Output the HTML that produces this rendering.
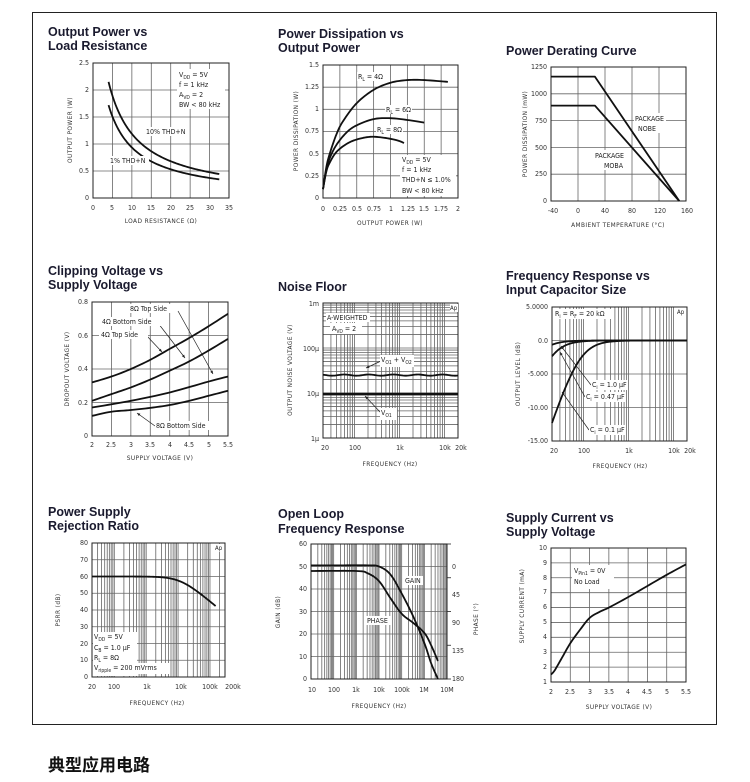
<!DOCTYPE html>
<html><head><meta charset="utf-8"><style>
html,body{margin:0;padding:0;background:#fff;}
body{width:750px;height:782px;overflow:hidden;}
svg{display:block;}
.t{font-family:"Liberation Sans",Arial,sans-serif;font-weight:bold;font-size:12.5px;fill:#1a1a2e;}
.k{font-family:"DejaVu Sans Condensed","DejaVu Sans","Liberation Sans",sans-serif;font-size:7px;fill:#333;}
.a{font-family:"DejaVu Sans Condensed","DejaVu Sans","Liberation Sans",sans-serif;font-size:6.5px;fill:#333;letter-spacing:0.4px;}
.n{font-family:"DejaVu Sans Condensed","DejaVu Sans","Liberation Sans",sans-serif;font-size:7px;fill:#222;}
.s{font-size:5px;}
.bg{fill:#fff;}
</style></head><body>
<svg id="s" width="750" height="782" viewBox="0 0 750 782" xmlns="http://www.w3.org/2000/svg">
<rect x="32.5" y="12.5" width="684" height="712" fill="none" stroke="#222" stroke-width="1"/>
<g id="g"></g>
<g id="txt">
<text class="t" x="48" y="36">Output Power vs</text>
<text class="t" x="48" y="50">Load Resistance</text>
<text class="t" x="278" y="38">Power Dissipation vs</text>
<text class="t" x="278" y="52">Output Power</text>
<text class="t" x="506" y="55">Power Derating Curve</text>
<text class="t" x="48" y="275">Clipping Voltage vs</text>
<text class="t" x="48" y="289">Supply Voltage</text>
<text class="t" x="278" y="291">Noise Floor</text>
<text class="t" x="506" y="280">Frequency Response vs</text>
<text class="t" x="506" y="294">Input Capacitor Size</text>
<text class="t" x="48" y="516">Power Supply</text>
<text class="t" x="48" y="530">Rejection Ratio</text>
<text class="t" x="278" y="518">Open Loop</text>
<text class="t" x="278" y="533">Frequency Response</text>
<text class="t" x="506" y="522">Supply Current vs</text>
<text class="t" x="506" y="536">Supply Voltage</text>
<text x="48" y="771" style="font-family:'Liberation Sans','Noto Sans CJK SC',sans-serif;font-weight:bold;font-size:17px;fill:#111">典型应用电路</text>

<g class="k" text-anchor="end">
<text x="89" y="200">0</text><text x="89" y="173">0.5</text><text x="89" y="146">1</text><text x="89" y="119">1.5</text><text x="89" y="92">2</text><text x="89" y="65">2.5</text>
</g>
<g class="k" text-anchor="middle">
<text x="93" y="210">0</text><text x="112" y="210">5</text><text x="132" y="210">10</text><text x="151" y="210">15</text><text x="171" y="210">20</text><text x="190" y="210">25</text><text x="210" y="210">30</text><text x="229" y="210">35</text>
</g>
<text class="a" x="161" y="223" text-anchor="middle">LOAD RESISTANCE (Ω)</text>
<text class="a" transform="translate(72,130) rotate(-90)" text-anchor="middle">OUTPUT POWER (W)</text>
<g class="n"><rect class="bg" x="177" y="69" width="48" height="40"/>
<text x="179" y="77">V<tspan class="s" dy="2">DD</tspan><tspan dy="-2"> = 5V</tspan></text>
<text x="179" y="87">f = 1 kHz</text>
<text x="179" y="97">A<tspan class="s" dy="2">VD</tspan><tspan dy="-2"> = 2</tspan></text>
<text x="179" y="107">BW &lt; 80 kHz</text>
<rect class="bg" x="144" y="127" width="45" height="9"/><text x="146" y="134">10% THD+N</text>
<rect class="bg" x="109" y="156" width="40" height="9"/><text x="110" y="163">1% THD+N</text></g>

<g class="k" text-anchor="end">
<text x="319" y="200">0</text><text x="319" y="178">0.25</text><text x="319" y="156">0.5</text><text x="319" y="133">0.75</text><text x="319" y="111">1</text><text x="319" y="89">1.25</text><text x="319" y="67">1.5</text>
</g>
<g class="k" text-anchor="middle">
<text x="323" y="211">0</text><text x="340" y="211">0.25</text><text x="357" y="211">0.5</text><text x="374" y="211">0.75</text><text x="391" y="211">1</text><text x="408" y="211">1.25</text><text x="424" y="211">1.5</text><text x="441" y="211">1.75</text><text x="458" y="211">2</text>
</g>
<text class="a" x="390" y="225" text-anchor="middle">OUTPUT POWER (W)</text>
<text class="a" transform="translate(298,131) rotate(-90)" text-anchor="middle">POWER DISSIPATION (W)</text>
<g class="n">
<rect class="bg" x="357" y="72" width="27" height="9"/><text x="358" y="79">R<tspan class="s" dy="2">L</tspan><tspan dy="-2"> = 4Ω</tspan></text>
<rect class="bg" x="385" y="105" width="27" height="9"/><text x="386" y="112">R<tspan class="s" dy="2">L</tspan><tspan dy="-2"> = 6Ω</tspan></text>
<rect class="bg" x="376" y="125" width="27" height="9"/><text x="377" y="132">R<tspan class="s" dy="2">L</tspan><tspan dy="-2"> = 8Ω</tspan></text>
<rect class="bg" x="400" y="155" width="56" height="41"/>
<text x="402" y="162">V<tspan class="s" dy="2">DD</tspan><tspan dy="-2"> = 5V</tspan></text>
<text x="402" y="172">f = 1 kHz</text>
<text x="402" y="182">THD+N ≤ 1.0%</text>
<text x="402" y="193">BW &lt; 80 kHz</text></g>

<g class="k" text-anchor="end">
<text x="547" y="203">0</text><text x="547" y="176">250</text><text x="547" y="150">500</text><text x="547" y="123">750</text><text x="547" y="96">1000</text><text x="547" y="69">1250</text>
</g>
<g class="k" text-anchor="middle">
<text x="553" y="213">-40</text><text x="578" y="213">0</text><text x="605" y="213">40</text><text x="632" y="213">80</text><text x="660" y="213">120</text><text x="687" y="213">160</text>
</g>
<text class="a" x="618" y="227" text-anchor="middle">AMBIENT TEMPERATURE (°C)</text>
<text class="a" transform="translate(527,134) rotate(-90)" text-anchor="middle">POWER DISSIPATION (mW)</text>
<g class="n">
<rect class="bg" x="634" y="113" width="32" height="20"/>
<text x="635" y="121">PACKAGE</text><text x="638" y="131">NOBE</text>
<rect class="bg" x="594" y="150" width="32" height="20"/>
<text x="595" y="158">PACKAGE</text><text x="604" y="168">MOBA</text></g>

<g class="k" text-anchor="end">
<text x="88" y="438">0</text><text x="88" y="405">0.2</text><text x="88" y="371">0.4</text><text x="88" y="338">0.6</text><text x="88" y="304">0.8</text>
</g>
<g class="k" text-anchor="middle">
<text x="92" y="447">2</text><text x="111" y="447">2.5</text><text x="131" y="447">3</text><text x="150" y="447">3.5</text><text x="170" y="447">4</text><text x="189" y="447">4.5</text><text x="209" y="447">5</text><text x="228" y="447">5.5</text>
</g>
<text class="a" x="160" y="460" text-anchor="middle">SUPPLY VOLTAGE (V)</text>
<text class="a" transform="translate(69,369) rotate(-90)" text-anchor="middle">DROPOUT VOLTAGE (V)</text>
<g class="n">
<rect class="bg" x="128" y="304" width="48" height="9"/><text x="130" y="311">8Ω Top Side</text>
<rect class="bg" x="101" y="317" width="60" height="9"/><text x="102" y="324">4Ω Bottom Side</text>
<rect class="bg" x="99" y="330" width="49" height="9"/><text x="101" y="337">4Ω Top Side</text>
<rect class="bg" x="155" y="421" width="60" height="9"/><text x="156" y="428">8Ω Bottom Side</text></g>

<g class="k" text-anchor="end">
<text x="319" y="306">1m</text><text x="319" y="351">100µ</text><text x="319" y="396">10µ</text><text x="319" y="441">1µ</text>
</g>
<g class="k" text-anchor="middle">
<text x="325" y="450">20</text><text x="355" y="450">100</text><text x="400" y="450">1k</text><text x="445" y="450">10k</text><text x="461" y="450">20k</text>
</g>
<text class="a" x="390" y="466" text-anchor="middle">FREQUENCY (Hz)</text>
<text class="a" transform="translate(292,370) rotate(-90)" text-anchor="middle">OUTPUT NOISE VOLTAGE (V)</text>
<g class="n">
<rect class="bg" x="326" y="313" width="44" height="9"/><text x="327" y="320">A-WEIGHTED</text>
<rect class="bg" x="330" y="323" width="32" height="11"/><text x="332" y="331">A<tspan class="s" dy="2">VD</tspan><tspan dy="-2"> = 2</tspan></text>
<rect class="bg" x="450" y="304" width="8" height="8"/><text x="450" y="310" style="font-size:6px">Ap</text>
<rect class="bg" x="380" y="355" width="34" height="12"/><text x="381" y="362">V<tspan class="s" dy="2">O1</tspan><tspan dy="-2"> + V</tspan><tspan class="s" dy="2">O2</tspan></text>
<rect class="bg" x="380" y="408" width="17" height="12"/><text x="381" y="415">V<tspan class="s" dy="2">O1</tspan></text></g>

<g class="k" text-anchor="end">
<text x="548" y="309">5.0000</text><text x="548" y="343">0.0</text><text x="548" y="376">-5.000</text><text x="548" y="410">-10.00</text><text x="548" y="443">-15.00</text>
</g>
<g class="k" text-anchor="middle">
<text x="554" y="453">20</text><text x="584" y="453">100</text><text x="629" y="453">1k</text><text x="674" y="453">10k</text><text x="690" y="453">20k</text>
</g>
<text class="a" x="620" y="468" text-anchor="middle">FREQUENCY (Hz)</text>
<text class="a" transform="translate(520,374) rotate(-90)" text-anchor="middle">OUTPUT LEVEL (dB)</text>
<g class="n">
<rect class="bg" x="554" y="309" width="57" height="10"/><text x="555" y="316">R<tspan class="s" dy="2">i</tspan><tspan dy="-2"> = R</tspan><tspan class="s" dy="2">F</tspan><tspan dy="-2"> = 20 kΩ</tspan></text>
<rect class="bg" x="677" y="308" width="9" height="8"/><text x="677" y="314" style="font-size:6px">Ap</text>
<rect class="bg" x="591" y="380" width="36" height="10"/><text x="592" y="387">C<tspan class="s" dy="2">i</tspan><tspan dy="-2"> = 1.0 µF</tspan></text>
<rect class="bg" x="585" y="392" width="40" height="10"/><text x="586" y="399">C<tspan class="s" dy="2">i</tspan><tspan dy="-2"> = 0.47 µF</tspan></text>
<rect class="bg" x="589" y="425" width="36" height="10"/><text x="590" y="432">C<tspan class="s" dy="2">i</tspan><tspan dy="-2"> = 0.1 µF</tspan></text></g>

<g class="k" text-anchor="end">
<text x="88" y="679">0</text><text x="88" y="662">10</text><text x="88" y="646">20</text><text x="88" y="629">30</text><text x="88" y="612">40</text><text x="88" y="595">50</text><text x="88" y="579">60</text><text x="88" y="562">70</text><text x="88" y="545">80</text>
</g>
<g class="k" text-anchor="middle">
<text x="92" y="689">20</text><text x="114" y="689">100</text><text x="147" y="689">1k</text><text x="181" y="689">10k</text><text x="210" y="689">100k</text><text x="233" y="689">200k</text>
</g>
<text class="a" x="157" y="705" text-anchor="middle">FREQUENCY (Hz)</text>
<text class="a" transform="translate(60,610) rotate(-90)" text-anchor="middle">PSRR (dB)</text>
<g class="n">
<rect class="bg" x="93" y="632" width="44" height="44"/>
<text x="94" y="639">V<tspan class="s" dy="2">DD</tspan><tspan dy="-2"> = 5V</tspan></text>
<text x="94" y="650">C<tspan class="s" dy="2">B</tspan><tspan dy="-2"> = 1.0 µF</tspan></text>
<text x="94" y="660">R<tspan class="s" dy="2">L</tspan><tspan dy="-2"> = 8Ω</tspan></text>
<rect class="bg" x="93" y="663" width="76" height="11"/>
<text x="94" y="670">V<tspan class="s" dy="2">ripple</tspan><tspan dy="-2"> = 200 mVrms</tspan></text>
<rect class="bg" x="214" y="544" width="10" height="8"/><text x="215" y="550" style="font-size:6px">Ap</text></g>

<g class="k" text-anchor="end">
<text x="307" y="681">0</text><text x="307" y="659">10</text><text x="307" y="636">20</text><text x="307" y="614">30</text><text x="307" y="591">40</text><text x="307" y="569">50</text><text x="307" y="546">60</text>
</g>
<g class="k">
<text x="452" y="569">0</text><text x="452" y="597">45</text><text x="452" y="625">90</text><text x="452" y="653">135</text><text x="452" y="681">180</text>
</g>
<g class="k" text-anchor="middle">
<text x="312" y="692">10</text><text x="334" y="692">100</text><text x="356" y="692">1k</text><text x="379" y="692">10k</text><text x="402" y="692">100k</text><text x="424" y="692">1M</text><text x="447" y="692">10M</text>
</g>
<text class="a" x="379" y="708" text-anchor="middle">FREQUENCY (Hz)</text>
<text class="a" transform="translate(280,612) rotate(-90)" text-anchor="middle">GAIN (dB)</text>
<text class="a" transform="translate(478,619) rotate(-90)" text-anchor="middle">PHASE (°)</text>
<g class="n">
<rect class="bg" x="404" y="576" width="19" height="9"/><text x="405" y="583">GAIN</text>
<rect class="bg" x="366" y="616" width="26" height="9"/><text x="367" y="623">PHASE</text></g>

<g class="k" text-anchor="end">
<text x="547" y="684">1</text><text x="547" y="669">2</text><text x="547" y="654">3</text><text x="547" y="639">4</text><text x="547" y="624">5</text><text x="547" y="609">6</text><text x="547" y="594">7</text><text x="547" y="580">8</text><text x="547" y="565">9</text><text x="547" y="550">10</text>
</g>
<g class="k" text-anchor="middle">
<text x="551" y="694">2</text><text x="570" y="694">2.5</text><text x="590" y="694">3</text><text x="609" y="694">3.5</text><text x="628" y="694">4</text><text x="647" y="694">4.5</text><text x="667" y="694">5</text><text x="686" y="694">5.5</text>
</g>
<text class="a" x="619" y="709" text-anchor="middle">SUPPLY VOLTAGE (V)</text>
<text class="a" transform="translate(524,606) rotate(-90)" text-anchor="middle">SUPPLY CURRENT (mA)</text>
<g class="n">
<rect class="bg" x="572" y="565" width="42" height="24"/>
<text x="574" y="573">V<tspan class="s" dy="2">Pin1</tspan><tspan dy="-2"> = 0V</tspan></text>
<text x="574" y="584">No Load</text></g>
</g>
</svg>
<script>
(function(){
var NS="http://www.w3.org/2000/svg",g=document.getElementById("g");
function el(t,a){var e=document.createElementNS(NS,t);for(var k in a)e.setAttribute(k,a[k]);g.appendChild(e);return e;}
function C(x0,x1,y0,y1,xa,xb,xl,ya,yb,yl){
 var f=function(v,a,b,l,p0,p1){if(l){v=Math.log10(v);a=Math.log10(a);b=Math.log10(b);}return p0+(v-a)/(b-a)*(p1-p0);};
 return {x0:x0,x1:x1,y0:y0,y1:y1,X:function(v){return f(v,xa,xb,xl,x0,x1);},Y:function(v){return f(v,ya,yb,yl,y0,y1);}};
}
function logs(a,b){var r=[];for(var k=-7;k<8;k++)for(var m=1;m<10;m++){var v=m*Math.pow(10,k);if(v>=a*0.9999&&v<=b*1.0001)r.push(v);}return r;}
function rng(a,b,s){var r=[];for(var v=a;v<=b+1e-9;v+=s)r.push(v);return r;}
function grid(c,xs,ys,col){
 col=col||"#666";
 xs.forEach(function(v){var x=c.X(v);el("line",{x1:x,y1:c.y1,x2:x,y2:c.y0,stroke:col,"stroke-width":0.8});});
 ys.forEach(function(v){var y=c.Y(v);el("line",{x1:c.x0,y1:y,x2:c.x1,y2:y,stroke:col,"stroke-width":0.8});});
 el("rect",{x:c.x0,y:c.y1,width:c.x1-c.x0,height:c.y0-c.y1,fill:"none",stroke:"#222","stroke-width":1});
}
function curve(c,pts,w){var d=pts.map(function(p,i){return (i?"L":"M")+c.X(p[0]).toFixed(2)+" "+c.Y(p[1]).toFixed(2);}).join("");
 el("path",{d:d,fill:"none",stroke:"#111","stroke-width":w||1.8,"stroke-linejoin":"round"});}
function fn(c,a,b,f,log,n){n=n||80;var p=[];for(var i=0;i<=n;i++){var v=log?a*Math.pow(b/a,i/n):a+(b-a)*i/n;p.push([v,f(v)]);}return p;}
function spline(pts,n){
 var out=[];n=n||8;
 for(var i=0;i<pts.length-1;i++){var p0=pts[Math.max(0,i-1)],p1=pts[i],p2=pts[i+1],p3=pts[Math.min(pts.length-1,i+2)];
  for(var j=0;j<n;j++){var t=j/n,t2=t*t,t3=t2*t;
   var q=[0,1].map(function(k){return 0.5*((2*p1[k])+(-p0[k]+p2[k])*t+(2*p0[k]-5*p1[k]+4*p2[k]-p3[k])*t2+(-p0[k]+3*p1[k]-3*p2[k]+p3[k])*t3);});
   out.push(q);}}
 out.push(pts[pts.length-1]);return out;}
function arrow(x1,y1,x2,y2){el("line",{x1:x1,y1:y1,x2:x2,y2:y2,stroke:"#222","stroke-width":0.7});
 var a=Math.atan2(y2-y1,x2-x1),s=3.5;
 el("path",{d:"M"+x2+" "+y2+"L"+(x2-s*Math.cos(a-0.4))+" "+(y2-s*Math.sin(a-0.4))+"L"+(x2-s*Math.cos(a+0.4))+" "+(y2-s*Math.sin(a+0.4))+"Z",fill:"#222"});}

var c=C(93,229,198,63,0,35,0,0,2.5,0);
grid(c,rng(5,30,5),rng(0.5,2,0.5));
curve(c,fn(c,4,32.5,function(R){return 15.93/(R+3.41);}));
curve(c,fn(c,4,32.5,function(R){return 12.3/(R+3.15);}));

c=C(323,458,198,65,0,2,0,0,1.5,0);
grid(c,rng(0.25,1.75,0.25),rng(0.25,1.25,0.25));
curve(c,spline([[0,0.1],[0.05,0.35],[0.1,0.5],[0.2,0.72],[0.3,0.87],[0.5,1.07],[0.75,1.22],[1,1.3],[1.25,1.33],[1.5,1.33],[1.85,1.31]]));
curve(c,spline([[0,0.1],[0.05,0.32],[0.1,0.45],[0.2,0.6],[0.35,0.74],[0.5,0.82],[0.75,0.89],[1,0.9],[1.25,0.88],[1.5,0.85]]));
curve(c,spline([[0,0.1],[0.05,0.3],[0.1,0.4],[0.2,0.52],[0.35,0.61],[0.5,0.66],[0.7,0.69],[0.9,0.68],[1.1,0.65],[1.2,0.62]]));

c=C(551,686,201,67,-40,160,0,0,1250,0);
grid(c,rng(0,120,40),rng(250,1000,250));
curve(c,[[-40,1160],[25,1160],[150,0]]);
curve(c,[[-40,890],[25,890],[150,0]]);

c=C(92,228,436,302,2,5.5,0,0,0.8,0);
grid(c,rng(2.5,5,0.5),rng(0.2,0.6,0.2));
curve(c,spline([[2,0.32],[2.5,0.355],[3,0.40],[3.5,0.455],[4,0.52],[4.5,0.585],[5,0.655],[5.5,0.73]]));
curve(c,spline([[2,0.21],[2.5,0.25],[3,0.29],[3.5,0.337],[4,0.39],[4.5,0.445],[5,0.51],[5.5,0.58]]));
curve(c,spline([[2,0.17],[3,0.21],[4,0.26],[5,0.325],[5.5,0.355]]));
curve(c,spline([[2,0.12],[2.5,0.145],[3,0.155],[3.5,0.168],[4,0.185],[4.5,0.21],[5,0.24],[5.5,0.27]]));
arrow(178,311,213,374);arrow(158,323,185,358);arrow(146,335,162,352);arrow(155,426,137,413);

c=C(323,458,438,303,20,20000,1,1e-6,1e-3,1);
grid(c,logs(20,20000).filter(function(v){return v>20&&v<20000;}),logs(1e-6,1e-3).filter(function(v){return v>1e-6&&v<1e-3;}));
curve(c,fn(c,20,20000,function(f){return 25e-6*(1+0.03*Math.sin(Math.log(f)*5));},1,120),1.8);
curve(c,fn(c,20,20000,function(f){return 9.5e-6;},1,10),2.4);
arrow(381,361,366,368);arrow(381,413,365,396);

c=C(552,687,441,307,20,20000,1,-15,5,0);
grid(c,logs(20,20000).filter(function(v){return v>20&&v<20000;}),[-10,-5,0]);
[8,17,80].forEach(function(fc){curve(c,fn(c,20,20000,function(f){return -10*Math.log10(1+Math.pow(fc/f,2));},1,150));});
arrow(591,385,561,346);arrow(585,397,560,352);arrow(589,430,562,392);

c=C(92,225,677,543,20,296000,1,0,80,0);
grid(c,logs(20,296000).filter(function(v){return v>20;}),rng(10,70,10));
curve(c,fn(c,20,150000,function(f){return 60-10*Math.log10(1+Math.pow(f/12000,1.6));},1,150));

c=C(311,447,679,544,1,7,0,0,60,0);
grid(c,logs(10,1e7).filter(function(v){return v>10&&v<1e7;}).map(Math.log10),rng(10,50,10));
curve(c,spline([[1,50.5],[2,50.5],[3.5,50.5],[4,50],[4.5,46.5],[5,38],[5.5,28],[6,16],[6.3,7],[6.6,0]],10));
curve(c,spline([[1,48],[3,48],[3.5,47],[4,43.5],[4.5,36],[5,29],[5.5,25],[6,20.5],[6.3,15],[6.6,8]],10));
[0,45,90,135,180].forEach(function(p){var y=679-p/180*135;el("line",{x1:447,y1:y,x2:451,y2:y,stroke:"#222","stroke-width":0.8});});

c=C(551,686,682,548,2,5.5,0,1,10,0);
grid(c,rng(2.5,5,0.5),rng(2,9,1));
curve(c,spline([[2,1.5],[2.1,1.8],[2.3,2.7],[2.5,3.6],[2.75,4.5],[3,5.3],[3.25,5.7],[3.5,6.0],[4,6.7],[4.5,7.45],[5,8.2],[5.5,8.9]]));
})();
</script>
</body></html>
